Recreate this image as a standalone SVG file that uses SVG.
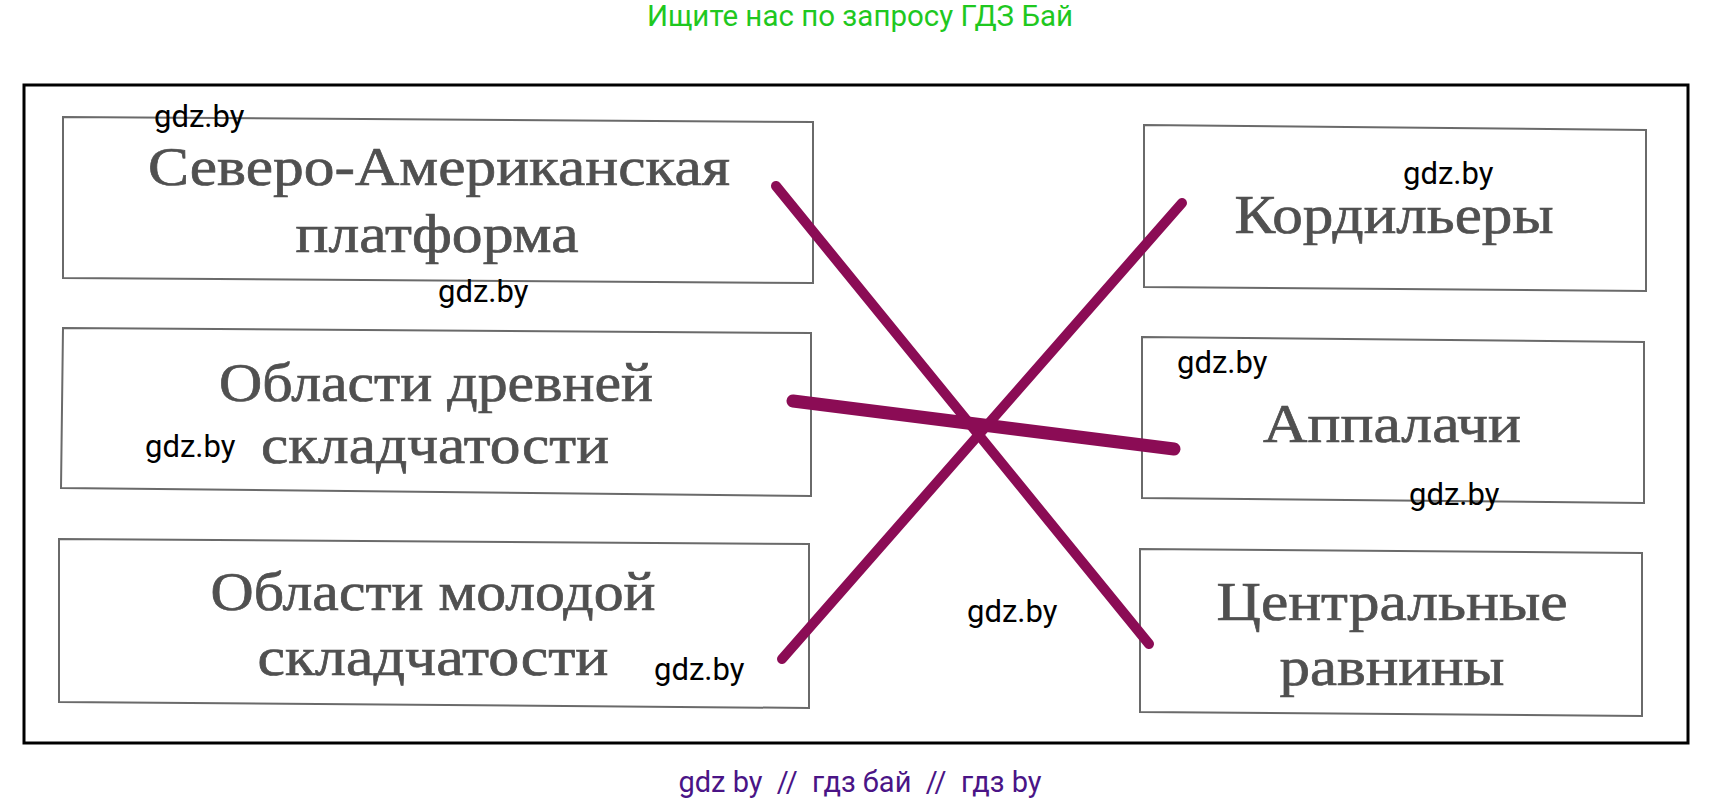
<svg xmlns="http://www.w3.org/2000/svg" width="1722" height="804" viewBox="0 0 1722 804">
<style>
.box{fill:#fff;stroke:#6a6a6a;stroke-width:2}
.lbl{font-family:"Liberation Serif","Times New Roman",serif;font-size:55px;fill:#505050;stroke:#505050;stroke-width:0.7;text-anchor:middle}
.wm{font-family:Roboto,"Liberation Sans",sans-serif;font-size:31px;fill:#000}
.con{stroke:#8b0c55;stroke-linecap:round;fill:none}
</style>
<rect x="0" y="0" width="1722" height="804" fill="#fff"/>
<text x="860" y="26" font-family="Roboto,'Liberation Sans',sans-serif" font-size="29.5" fill="#1fc81f" text-anchor="middle">Ищите нас по запросу ГДЗ Бай</text>
<rect x="24" y="85" width="1664" height="658" fill="none" stroke="#000" stroke-width="3"/>
<g id="node-na-platform">
<polygon class="box" points="63,117 813,122 813,283 63,278"/>
<text class="lbl" x="439" y="185" textLength="582" lengthAdjust="spacingAndGlyphs">Северо-Американская</text>
<text class="lbl" x="437" y="252" textLength="283" lengthAdjust="spacingAndGlyphs">платформа</text>
</g>
<g id="node-ancient">
<polygon class="box" points="63,328 811,333 811,496 61,488"/>
<text class="lbl" x="436" y="401" textLength="434" lengthAdjust="spacingAndGlyphs">Области древней</text>
<text class="lbl" x="435" y="463" textLength="348" lengthAdjust="spacingAndGlyphs">складчатости</text>
</g>
<g id="node-young">
<polygon class="box" points="59,539 809,544 809,708 59,702"/>
<text class="lbl" x="433" y="610" textLength="445" lengthAdjust="spacingAndGlyphs">Области молодой</text>
<text class="lbl" x="433" y="675" textLength="351" lengthAdjust="spacingAndGlyphs">складчатости</text>
</g>
<g id="node-cordillera">
<polygon class="box" points="1144,125 1646,130 1646,291 1144,287"/>
<text class="lbl" x="1394" y="233" textLength="319" lengthAdjust="spacingAndGlyphs">Кордильеры</text>
</g>
<g id="node-appalachians">
<polygon class="box" points="1142,337 1644,342 1644,503 1142,498"/>
<text class="lbl" x="1392" y="442" textLength="258" lengthAdjust="spacingAndGlyphs">Аппалачи</text>
</g>
<g id="node-plains">
<polygon class="box" points="1140,549 1642,553 1642,716 1140,712"/>
<text class="lbl" x="1392" y="620" textLength="351" lengthAdjust="spacingAndGlyphs">Центральные</text>
<text class="lbl" x="1392" y="685" textLength="225" lengthAdjust="spacingAndGlyphs">равнины</text>
</g>
<g id="connectors">
<line class="con" x1="776" y1="186" x2="1149" y2="644" stroke-width="10"/>
<line class="con" x1="1182" y1="203" x2="782" y2="659" stroke-width="10"/>
<line class="con" x1="793" y1="401" x2="1174" y2="449" stroke-width="13"/>
</g>
<g id="watermarks">
<text class="wm" x="154" y="127">gdz.by</text>
<text class="wm" x="438" y="302">gdz.by</text>
<text class="wm" x="1403" y="184">gdz.by</text>
<text class="wm" x="1177" y="373">gdz.by</text>
<text class="wm" x="145" y="457">gdz.by</text>
<text class="wm" x="1409" y="505">gdz.by</text>
<text class="wm" x="967" y="622">gdz.by</text>
<text class="wm" x="654" y="680">gdz.by</text>
</g>
<text x="860" y="792" font-family="Roboto,'Liberation Sans',sans-serif" font-size="29" fill="#4a1486" text-anchor="middle" xml:space="preserve" style="white-space:pre">gdz by  //  гдз бай  //  гдз by</text>
</svg>
